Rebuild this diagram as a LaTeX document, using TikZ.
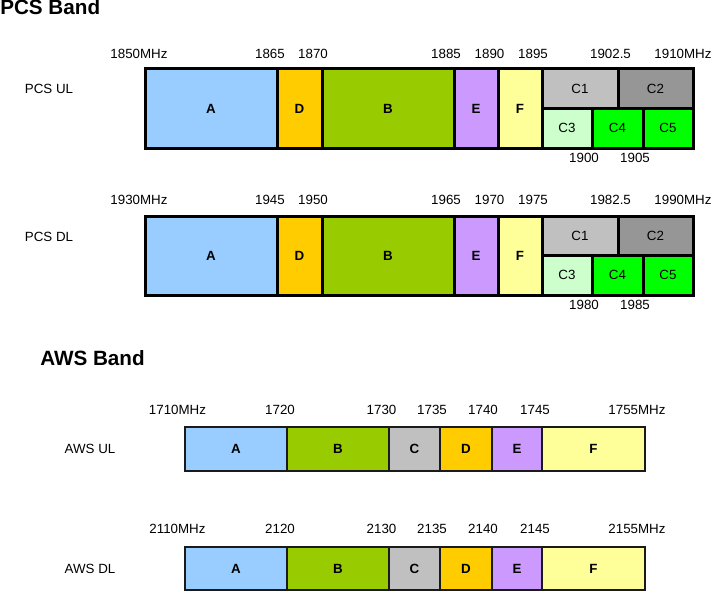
\documentclass[tikz,border=0pt]{standalone}
\usepackage{fontspec}
\setmainfont{Liberation Sans}
\definecolor{cA}{HTML}{99CCFF}
\definecolor{cD}{HTML}{FFCC00}
\definecolor{cB}{HTML}{99CC00}
\definecolor{cE}{HTML}{CC99FF}
\definecolor{cF}{HTML}{FFFF99}
\definecolor{cCa}{HTML}{C0C0C0}
\definecolor{cCb}{HTML}{969696}
\definecolor{cCc}{HTML}{CCFFCC}
\definecolor{cCd}{HTML}{00FF00}
\definecolor{awsline}{HTML}{1A1A1A}
\begin{document}
\begin{tikzpicture}[x=0.75pt,y=-0.75pt,
  pcs/.style={draw=black,line width=2.25pt},
  aws/.style={draw=awsline,line width=1.4pt},
  num/.style={font=\fontsize{10}{12}\selectfont,inner sep=0pt},
  side/.style={font=\fontsize{10}{12}\selectfont,inner sep=0pt},
  band/.style={font=\bfseries\fontsize{10}{12}\selectfont,inner sep=0pt},
  sub/.style={font=\fontsize{10}{12}\selectfont,inner sep=0pt},
  title/.style={font=\bfseries\fontsize{15.5}{18}\selectfont,inner sep=0pt}]
\useasboundingbox (0,0) rectangle (713,592);

% ---------- PCS Band ----------
\node[title,anchor=west] (tpcs) at (0,7) {PCS Band};

% PCS UL
\draw[pcs,fill=cA] (145,69) rectangle (277,148);
\draw[pcs,fill=cD] (277,69) rectangle (322,148);
\draw[pcs,fill=cB] (322,69) rectangle (454,148);
\draw[pcs,fill=cE] (454,69) rectangle (498,148);
\draw[pcs,fill=cF] (498,69) rectangle (542,148);
\draw[pcs,fill=cCa] (542,69) rectangle (618,108.5);
\draw[pcs,fill=cCb] (618,69) rectangle (693,108.5);
\draw[pcs,fill=cCc] (542,108.5) rectangle (592,148);
\draw[pcs,fill=cCd] (592,108.5) rectangle (643,148);
\draw[pcs,fill=cCd] (643,108.5) rectangle (693,148);
\node[band] (ulA) at (211,108.5) {A};
\node[band] (ulD) at (299.5,108.5) {D};
\node[band] (ulB) at (388,108.5) {B};
\node[band] (ulE) at (476,108.5) {E};
\node[band] (ulF) at (520,108.5) {F};
\node[sub] (ulC1) at (580,89) {C1};
\node[sub] (ulC2) at (655.5,89) {C2};
\node[sub] (ulC3) at (567,128) {C3};
\node[sub] (ulC4) at (617.5,128) {C4};
\node[sub] (ulC5) at (668,128) {C5};
\node[side] (ulname) at (49,89) {PCS UL};
\node[num] (ul1) at (139,54) {1850MHz};
\node[num] (ul2) at (270,54) {1865};
\node[num] (ul3) at (313,54) {1870};
\node[num] (ul4) at (446,54) {1885};
\node[num] (ul5) at (489.5,54) {1890};
\node[num] (ul6) at (533,54) {1895};
\node[num] (ul7) at (610.5,54) {1902.5};
\node[num] (ul8) at (683,54) {1910MHz};
\node[num] (ul9) at (584,158) {1900};
\node[num] (ul10) at (635,158) {1905};

% PCS DL
\draw[pcs,fill=cA] (145,216) rectangle (277,295);
\draw[pcs,fill=cD] (277,216) rectangle (322,295);
\draw[pcs,fill=cB] (322,216) rectangle (454,295);
\draw[pcs,fill=cE] (454,216) rectangle (498,295);
\draw[pcs,fill=cF] (498,216) rectangle (542,295);
\draw[pcs,fill=cCa] (542,216) rectangle (618,255.5);
\draw[pcs,fill=cCb] (618,216) rectangle (693,255.5);
\draw[pcs,fill=cCc] (542,255.5) rectangle (592,295);
\draw[pcs,fill=cCd] (592,255.5) rectangle (643,295);
\draw[pcs,fill=cCd] (643,255.5) rectangle (693,295);
\node[band] (dlA) at (211,255.5) {A};
\node[band] (dlD) at (299.5,255.5) {D};
\node[band] (dlB) at (388,255.5) {B};
\node[band] (dlE) at (476,255.5) {E};
\node[band] (dlF) at (520,255.5) {F};
\node[sub] (dlC1) at (580,236) {C1};
\node[sub] (dlC2) at (655.5,236) {C2};
\node[sub] (dlC3) at (567,275) {C3};
\node[sub] (dlC4) at (617.5,275) {C4};
\node[sub] (dlC5) at (668,275) {C5};
\node[side] (dlname) at (49,237) {PCS DL};
\node[num] (dl1) at (139,200) {1930MHz};
\node[num] (dl2) at (270,200) {1945};
\node[num] (dl3) at (313,200) {1950};
\node[num] (dl4) at (446,200) {1965};
\node[num] (dl5) at (489.5,200) {1970};
\node[num] (dl6) at (533,200) {1975};
\node[num] (dl7) at (610.5,200) {1982.5};
\node[num] (dl8) at (683,200) {1990MHz};
\node[num] (dl9) at (584,305) {1980};
\node[num] (dl10) at (635,305) {1985};

% ---------- AWS Band ----------
\node[title,anchor=west] (taws) at (40,358) {AWS Band};

% AWS UL
\draw[aws,fill=cA] (185,427) rectangle (287,471);
\draw[aws,fill=cB] (287,427) rectangle (389,471);
\draw[aws,fill=cCa] (389,427) rectangle (440,471);
\draw[aws,fill=cD] (440,427) rectangle (492,471);
\draw[aws,fill=cE] (492,427) rectangle (542,471);
\draw[aws,fill=cF] (542,427) rectangle (645,471);
\node[band] (auA) at (236,449) {A};
\node[band] (auB) at (338,449) {B};
\node[band] (auC) at (414.5,449) {C};
\node[band] (auD) at (466,449) {D};
\node[band] (auE) at (517,449) {E};
\node[band] (auF) at (593.5,449) {F};
\node[side] (auname) at (90,449) {AWS UL};
\node[num] (au1) at (177.5,410) {1710MHz};
\node[num] (au2) at (280,410) {1720};
\node[num] (au3) at (381.5,410) {1730};
\node[num] (au4) at (432,410) {1735};
\node[num] (au5) at (483,410) {1740};
\node[num] (au6) at (535,410) {1745};
\node[num] (au7) at (637,410) {1755MHz};

% AWS DL
\draw[aws,fill=cA] (185,547) rectangle (287,590);
\draw[aws,fill=cB] (287,547) rectangle (389,590);
\draw[aws,fill=cCa] (389,547) rectangle (440,590);
\draw[aws,fill=cD] (440,547) rectangle (492,590);
\draw[aws,fill=cE] (492,547) rectangle (542,590);
\draw[aws,fill=cF] (542,547) rectangle (645,590);
\node[band] (adA) at (236,568.5) {A};
\node[band] (adB) at (338,568.5) {B};
\node[band] (adC) at (414.5,568.5) {C};
\node[band] (adD) at (466,568.5) {D};
\node[band] (adE) at (517,568.5) {E};
\node[band] (adF) at (593.5,568.5) {F};
\node[side] (adname) at (90,569) {AWS DL};
\node[num] (ad1) at (177.5,529) {2110MHz};
\node[num] (ad2) at (280,529) {2120};
\node[num] (ad3) at (381.5,529) {2130};
\node[num] (ad4) at (432,529) {2135};
\node[num] (ad5) at (483,529) {2140};
\node[num] (ad6) at (535,529) {2145};
\node[num] (ad7) at (637,529) {2155MHz};
\end{tikzpicture}
\end{document}
